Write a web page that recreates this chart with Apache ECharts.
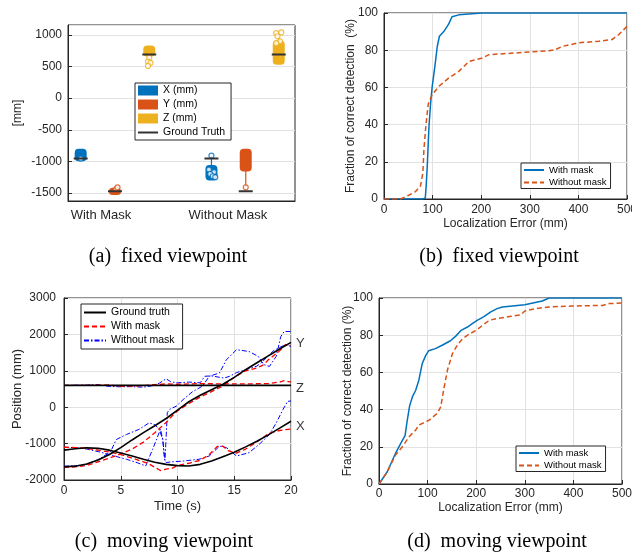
<!DOCTYPE html>
<html>
<head>
<meta charset="utf-8">
<script src="https://cdn.jsdelivr.net/npm/echarts@6.0.0/dist/echarts.min.js"></script>
<style>
  body { margin: 0; background: #fff; }
  .pane { position: absolute; }
</style>
</head>
<body>
<div id="pa" class="pane" style="left:0;top:0;width:316px;height:277px"></div>
<div id="pb" class="pane" style="left:316px;top:0;width:316px;height:277px"></div>
<div id="pc" class="pane" style="left:0;top:277px;width:316px;height:278px"></div>
<div id="pd" class="pane" style="left:316px;top:277px;width:316px;height:278px"></div>
<script>
// ---- (a) fixed viewpoint: spread of X / Y / Z estimates
var groupNames = ['With Mask', 'Without Mask']
// [position, bandLow, bandHigh, whiskerLow, whiskerHigh]
var boxX = [[0.84, -965, -830, -965, -830], [1.87, -1270, -1090, -1270, -910]]
var boxY = [[1.11, -1500, -1450, -1500, -1450], [2.14, -1130, -830, -1410, -830]]
var boxZ = [[1.38, 690, 800, 640, 800], [2.40, 560, 880, 560, 1040]]
var outX = [[0.84, -955], [1.87, -910], [1.85, -1130], [1.89, -1170], [1.86, -1200], [1.88, -1235], [1.90, -1250]]
var outY = [[1.12, -1440], [1.13, -1410], [2.14, -1410]]
var outZ = [[1.38, 640], [1.37, 580], [1.39, 560], [1.37, 510], [2.38, 1030], [2.42, 1040], [2.39, 980], [2.41, 900], [2.38, 870]]
var truthXYZ = [-955, -1473, 693]

// ---- (b) fixed viewpoint CDF
var bErr = [0, 80, 85, 87, 89, 92.5, 96, 99, 105, 109.6, 114, 123, 133, 140, 154, 181, 202, 500]
var bWith = [0, 0, 0.5, 8, 17.6, 39, 51.6, 60, 72, 82, 87.5, 90, 94, 98, 99, 99.6, 100, 100]
var bErr2 = [0, 34, 51, 65, 75, 80, 82, 86, 91, 99, 113, 133, 154, 175, 202, 216, 270, 339, 353, 366, 401, 442, 469, 483, 500]
var bWithout = [0, 0, 2, 4, 7, 14, 26, 39, 51, 56, 60.6, 65, 68.6, 74, 75.8, 77.6, 78.5, 79.7, 80.3, 82, 84, 84.8, 85.7, 88.4, 92.8]

// ---- (c) moving viewpoint trajectories [time s, position mm]
var gtX = [[0,-1180],[1,-1140],[2,-1115],[3,-1130],[4,-1180],[5,-1260],[6,-1340],[7,-1430],[8,-1510],[9,-1570],[10,-1605],[11,-1615],[12,-1570],[13,-1480],[14,-1360],[15,-1240],[16,-1090],[17,-935],[18,-760],[19,-575],[20,-385]]
var gtY = [[0,-1640],[1,-1620],[2,-1560],[3,-1450],[4,-1300],[5,-1110],[6,-900],[7,-700],[8,-510],[9,-310],[10,-80],[11,150],[12,330],[13,480],[14,630],[15,820],[16,1030],[17,1220],[18,1410],[19,1600],[20,1780]]
var gtZ = [[0,600],[10,600],[20,600]]
var wmX = [[0,-1100],[1,-1110],[2,-1130],[3,-1180],[4,-1230],[5,-1300],[6,-1400],[7,-1500],[7.5,-1560],[8,-1650],[8.5,-1740],[9,-1700],[9.5,-1680],[10,-1600],[11,-1540],[12,-1460],[12.8,-1300],[13.5,-1080],[14,-1070],[14.5,-1200],[15.2,-1260],[16,-1150],[17,-950],[17.5,-850],[18,-720],[18.5,-680],[19,-640],[19.7,-610],[20,-600]]
var wmY = [[0,-1650],[1,-1640],[2,-1600],[3,-1500],[4,-1400],[5,-1280],[6,-1150],[7,-960],[8,-700],[8.5,-560],[9,-420],[9.5,-250],[10,-100],[11,100],[12,280],[13,430],[14,580],[15,820],[16,1000],[17,1080],[17.5,1150],[18,1300],[19,1550],[19.5,1720],[20,1700]]
var wmZ = [[0,600],[2,600],[4,610],[5,575],[6,580],[7,590],[8,620],[9,640],[10,630],[12,650],[14,640],[16,640],[18,650],[19,690],[19.4,730],[20,690]]
var womX = [[0,-1100],[1,-1110],[2,-1150],[3,-1220],[4,-1300],[5,-1390],[5.5,-1430],[6.5,-1530],[7.2,-1615],[7.8,-1160],[8.2,-850],[8.5,-600],[8.7,-880],[8.85,-1430],[9,-1520],[9.5,-1500],[10.5,-1480],[11.9,-1430],[12.8,-1340],[13.7,-1070],[14.3,-1110],[15.2,-1340],[16.3,-1250],[17.2,-1020],[18.1,-750],[18.7,-430],[19.3,-60],[19.7,160],[20,170]]
var womY = [[0,-1620],[1,-1610],[2,-1570],[3,-1440],[4,-1250],[4.2,-1160],[4.6,-890],[5.5,-750],[6.6,-610],[7.5,-430],[8,-480],[8.4,-610],[8.7,-890],[8.9,-1460],[9.05,-1480],[9.1,-150],[9.3,-60],[9.9,30],[10.5,210],[11.3,420],[12.2,580],[12.8,850],[13.7,940],[14.3,1300],[15.2,1580],[16.3,1530],[17.1,1400],[17.6,1170],[18.1,1120],[18.7,1400],[19.1,1940],[19.4,2080],[20,2080]]
var womZ = [[0,600],[2,610],[3,620],[4,570],[5,560],[6,565],[7,550],[8,600],[8.4,660],[9,780],[9.4,700],[10,670],[11,690],[12,670],[12.4,850],[13,860],[14.1,800],[14.6,850],[15.2,950],[16,1030],[17,1130],[17.5,1250],[18,1420],[18.5,1560],[19,1640],[19.5,1720],[20,1670]]
var endTags = [[20, 1760, 'Y'], [20, 510, 'Z'], [20, -520, 'X']]

// ---- (d) moving viewpoint CDF
var dErr = [0, 3, 17, 34, 45, 53.6, 58, 63, 69, 75.5, 82, 89, 96, 102, 116, 130, 147, 158, 169, 182, 192, 202, 216, 230, 243, 254, 300, 336, 350, 500]
var dWith = [0, 0, 6.6, 16.5, 22, 26, 34, 42, 47, 50.4, 55.8, 64.8, 69, 71.6, 72.8, 74.6, 77, 79.5, 82.6, 84.4, 86.2, 88, 90, 92.5, 94.3, 95.2, 96.4, 98.4, 100, 100]
var dErr2 = [0, 17, 34, 48, 62, 75.5, 82, 103, 120, 127, 134, 141, 151, 161, 172, 185, 200, 213, 227, 241, 268, 292, 300, 323, 350, 398, 460, 474, 500]
var dWithout = [0, 6.6, 15.6, 20, 25.4, 29, 31.7, 34.3, 38, 41.5, 52, 61.4, 70, 74.6, 78.2, 80.5, 82.6, 85.3, 88, 88.9, 90, 91, 93, 94.3, 95.2, 95.7, 96, 97, 97.3]

var ink = '#262626'
var gridCol = '#e2e2e2'
var sans = 'Liberation Sans'
var blue = '#0072BD', orange = '#D95319', yellow = '#EDB120'

function zip(xs, ys) {
  return xs.map(function (x, i) { return [x, ys[i]] })
}

function axis(extra) {
  var a = {
    type: 'value',
    nameLocation: 'middle',
    nameMoveOverlap: false,
    nameTextStyle: { color: ink, fontFamily: sans, fontSize: 12 },
    axisLine: { show: true, onZero: false, lineStyle: { color: ink, width: 1 } },
    axisTick: { show: true, inside: true, length: 4, lineStyle: { color: ink } },
    axisLabel: { color: ink, fontFamily: sans, fontSize: 12, margin: 6, formatter: function (v) { return String(v) } },
    splitLine: { show: true, lineStyle: { color: gridCol, width: 1 } }
  }
  for (var k in extra) {
    if (typeof extra[k] === 'object' && a[k] && !Array.isArray(extra[k])) {
      a[k] = Object.assign({}, a[k], extra[k])
    } else {
      a[k] = extra[k]
    }
  }
  return a
}

function frame(left, top, width, height) {
  return { left: left, top: top, width: width, height: height, outerBoundsMode: 'none', containLabel: false, show: true, borderColor: ink, borderWidth: 1 }
}

function caption(text, x, y) {
  return {
    type: 'text', x: x, y: y,
    style: { text: text, fill: '#000', font: '20px "Liberation Serif"', textAlign: 'center', textVerticalAlign: 'middle' }
  }
}

// line icons only: the marker that echarts adds to line legends is hidden
function legendBox(extra) {
  var l = {
    orient: 'vertical',
    backgroundColor: '#fff',
    borderColor: ink,
    borderWidth: 1,
    borderRadius: 0,
    itemWidth: 20,
    itemHeight: 10,
    itemGap: 3,
    padding: [2, 6, 2, 2],
    selectedMode: false,
    itemStyle: { opacity: 0 },
    textStyle: { color: '#000', fontFamily: sans, fontSize: 10.5 }
  }
  return Object.assign(l, extra)
}

// ---------------- panel (a)
function bandSeries(name, color, data) {
  return {
    name: name, type: 'custom', itemStyle: { color: color }, z: 3,
    data: data,
    encode: { x: 0, y: 1 },
    renderItem: function (params, api) {
      var x = api.value(0)
      var lo = api.coord([x, api.value(1)])
      var hi = api.coord([x, api.value(2)])
      var wl = api.coord([x, api.value(3)])
      var wh = api.coord([x, api.value(4)])
      return {
        type: 'group',
        children: [
          { type: 'line', shape: { x1: wl[0], y1: wl[1], x2: wh[0], y2: wh[1] }, style: { stroke: color, lineWidth: 1.2 } },
          { type: 'rect', shape: { x: hi[0] - 6, y: hi[1] - 2, width: 12, height: lo[1] - hi[1] + 4, r: 4 }, style: { fill: color } }
        ]
      }
    }
  }
}
function outlierSeries(color, data) {
  return {
    type: 'scatter', data: data, symbol: 'circle', symbolSize: 5, z: 4,
    itemStyle: { color: '#fff', borderColor: color, borderWidth: 1.2 }
  }
}
var truthLine = []
;[boxX, boxY, boxZ].forEach(function (boxes, c) {
  boxes.forEach(function (b) {
    truthLine.push([b[0] - 0.055, truthXYZ[c]], [b[0] + 0.055, truthXYZ[c]], ['-', '-'])
  })
})

var chartA = echarts.init(document.getElementById('pa'))
chartA.setOption({
  animation: false,
  grid: frame(68, 25, 227, 176),
  xAxis: axis({
    min: 0.74, max: 2.528,
    axisTick: { show: false },
    splitLine: { show: false },
    axisLabel: { customValues: [1, 2], fontSize: 13, margin: 8, formatter: function (v) { return groupNames[Math.round(v) - 1] } }
  }),
  yAxis: axis({
    min: -1627, max: 1158, splitNumber: 5,
    name: '[mm]', nameGap: 44,
    axisLabel: { showMinLabel: false, showMaxLabel: false }
  }),
  legend: legendBox({
    left: 135, top: 83,
    data: [
      { name: 'X (mm)', icon: 'rect', itemStyle: { opacity: 1 } },
      { name: 'Y (mm)', icon: 'rect', itemStyle: { opacity: 1 } },
      { name: 'Z (mm)', icon: 'rect', itemStyle: { opacity: 1 } },
      'Ground Truth'
    ]
  }),
  series: [
    bandSeries('X (mm)', blue, boxX),
    bandSeries('Y (mm)', orange, boxY),
    bandSeries('Z (mm)', yellow, boxZ),
    outlierSeries(blue, outX),
    outlierSeries(orange, outY),
    outlierSeries(yellow, outZ),
    {
      name: 'Ground Truth', type: 'line', data: truthLine, symbol: 'none', z: 5,
      connectNulls: false, color: '#333',
      lineStyle: { color: '#333', width: 2 }
    }
  ],
  graphic: [caption('(a)  fixed viewpoint', 168, 257)]
})

// ---------------- panels (b) and (d)
function cdfOption(o) {
  return {
    animation: false,
    grid: frame(o.left, o.top, o.width, o.height),
    xAxis: axis({ min: 0, max: 500, interval: 100, name: 'Localization Error (mm)', nameGap: o.xGap, axisLabel: { margin: o.xMargin } }),
    yAxis: axis({ min: 0, max: 100, interval: 20, name: o.yName, nameGap: o.yGap }),
    legend: legendBox({
      left: o.legLeft, top: o.legTop, itemGap: 2.5, padding: [2, 4, 1, 2],
      textStyle: { color: '#000', fontFamily: sans, fontSize: 9.5 },
      data: ['With mask', 'Without mask']
    }),
    series: [
      { name: 'With mask', type: 'line', data: o.withData, symbol: 'none', color: blue, lineStyle: { color: blue, width: 1.5 } },
      { name: 'Without mask', type: 'line', data: o.withoutData, symbol: 'none', color: orange, lineStyle: { color: orange, width: 1.5, type: [5, 3] } }
    ],
    graphic: [caption(o.caption, o.capX, o.capY)]
  }
}

var chartB = echarts.init(document.getElementById('pb'))
chartB.setOption(cdfOption({
  left: 68, top: 13, width: 243, height: 186,
  xGap: 19, xMargin: 5, yGap: 27,
  yName: 'Fraction of correct detection  (%)',
  legLeft: 205, legTop: 163,
  withData: zip(bErr, bWith), withoutData: zip(bErr2, bWithout),
  caption: '(b)  fixed viewpoint', capX: 183, capY: 257
}))

var chartD = echarts.init(document.getElementById('pd'))
chartD.setOption(cdfOption({
  left: 63, top: 21, width: 243, height: 186,
  xGap: 18, xMargin: 4, yGap: 25,
  yName: 'Fraction of correct detection (%)',
  legLeft: 200, legTop: 169,
  withData: zip(dErr, dWith), withoutData: zip(dErr2, dWithout),
  caption: '(d)  moving viewpoint', capX: 181, capY: 265
}))

// ---------------- panel (c)
function track(name, data, color, width, type) {
  return { name: name, type: 'line', data: data, symbol: 'none', color: color, lineStyle: { color: color, width: width, type: type } }
}
var chartC = echarts.init(document.getElementById('pc'))
chartC.setOption({
  animation: false,
  grid: frame(64, 21, 227, 182),
  xAxis: axis({ min: 0, max: 20, interval: 5, name: 'Time (s)', nameGap: 20, nameTextStyle: { fontSize: 13 }, axisLabel: { margin: 5 } }),
  yAxis: axis({ min: -2000, max: 3000, interval: 1000, name: 'Position (mm)', nameGap: 40, nameTextStyle: { fontSize: 13 }, axisLabel: { margin: 8 } }),
  legend: legendBox({
    left: 81, top: 27, itemWidth: 22, padding: [3, 8, 3, 2],
    data: ['Ground truth', 'With mask', 'Without mask']
  }),
  series: [
    track('Without mask', womZ, '#0000FF', 1, [5, 2, 1.5, 2]),
    track('Without mask', womY, '#0000FF', 1, [5, 2, 1.5, 2]),
    track('Without mask', womX, '#0000FF', 1, [5, 2, 1.5, 2]),
    track('With mask', wmZ, '#FF0000', 1.3, [5, 3]),
    track('With mask', wmY, '#FF0000', 1.3, [5, 3]),
    track('With mask', wmX, '#FF0000', 1.3, [5, 3]),
    track('Ground truth', gtZ, '#000', 1.6, 'solid'),
    track('Ground truth', gtY, '#000', 1.6, 'solid'),
    track('Ground truth', gtX, '#000', 1.6, 'solid'),
    {
      type: 'scatter', data: endTags, symbolSize: 0, clip: false, silent: true,
      label: { show: true, position: 'right', distance: 5, color: '#000', fontFamily: sans, fontSize: 13, formatter: function (p) { return p.value[2] } }
    }
  ],
  graphic: [caption('(c)  moving viewpoint', 164, 265)]
})
</script>
</body>
</html>
